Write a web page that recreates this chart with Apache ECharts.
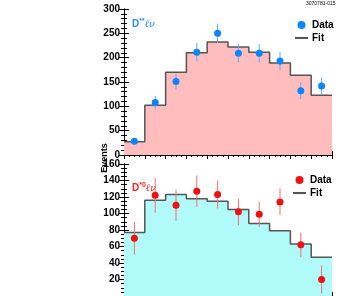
<!DOCTYPE html>
<html><head><meta charset="utf-8">
<script src="https://cdn.jsdelivr.net/npm/echarts@6/dist/echarts.min.js"></script>
<style>html,body{margin:0;padding:0;background:#fff}#c{width:339px;height:296px}</style>
</head><body><div id="c"></div>
<script>
// bins 0..10 along x
const bins = [0,1,2,3,4,5,6,7,8,9];
const topData = [28,108,151,211,250,209,209,193,132,142];
const topErr  = [7,13,16,19,20,19,19,19,17,17];
const topFit  = [27,102,170,210,232,222,211,189,164,123];
const botData = [70,122,110,127,123,102,99,114,62,20];
const botErr  = [20,21,19,19,17,16,15,16,15,17];
const botFit  = [77,116,123,118,115,105,88,79,63,47];
const topTicks = [0,50,100,150,200,250,300];
const botTicks = [20,40,60,80,100,120,140,160];

const FONT = "'Liberation Sans Narrow','Liberation Sans',Arial,sans-serif";
function stepData(fit){ const d = bins.map((b,i)=>[b,fit[i]]); d.push([bins.length, fit[fit.length-1]]); return d; }
function ptData(v,e){ return bins.map((b,i)=>[b+0.5, v[i], e[i]]); }
function errSeries(name, v, e, color, idx){
  return {type:'custom', name:name, xAxisIndex:idx, yAxisIndex:idx, z:3, silent:true,
    data: ptData(v,e), encode:{x:0,y:1},
    renderItem:(params, api)=>{
      const x=api.value(0), y=api.value(1), er=api.value(2);
      const a=api.coord([x,y-er]), b=api.coord([x,y+er]);
      return {type:'line', shape:{x1:a[0],y1:a[1],x2:b[0],y2:b[1]}, style:{stroke:color,lineWidth:1}};
    }};
}
function xAx(gi, pos){
  return {type:'value', gridIndex:gi, min:0, max:10, interval:1, position:pos,
    axisLine:{show:true,lineStyle:{color:'#000',width:1}}, axisLabel:{show:false},
    axisTick:{show:true, inside:true, length:4, lineStyle:{color:'#000'}},
    minorTick:{show:true, splitNumber:4, length:2, lineStyle:{color:'#000'}},
    splitLine:{show:false}};
}
function yAx(gi, pos, min, max, interval, showLabel, split){
  return {type:'value', gridIndex:gi, min:min, max:max, interval:interval, position:pos,
    axisLine:{show:true,lineStyle:{color:'#000',width:1}},
    axisLabel:{show:showLabel, fontFamily:FONT, fontWeight:'bold', fontSize:10, color:'#000', margin:4,
      formatter:(v)=> (gi===1 && v<20) ? '' : String(v)},
    axisTick:{show:true, inside:true, length:5, lineStyle:{color:'#000'}},
    minorTick:{show:true, splitNumber:split, length:3, lineStyle:{color:'#000'}},
    splitLine:{show:false}};
}
const chart = echarts.init(document.getElementById('c'), null, {renderer:'canvas'});
chart.setOption({
  animation:false,
  backgroundColor:'#fff',
  grid:[
    {left:124, right:7, top:9, height:146, show:false},
    {left:124, right:7, top:164, height:146, show:false}
  ],
  xAxis:[xAx(0,'bottom'), xAx(1,'bottom'), xAx(0,'top'), xAx(1,'top')],
  yAxis:[
    yAx(0,'left',0,300,50,true,5), yAx(1,'left',0,160,20,true,4),
    yAx(0,'right',0,300,50,false,5), yAx(1,'right',0,160,20,false,4)
  ],
  legend:[
    {left:290, top:15, orient:'vertical', itemGap:3, itemWidth:13, itemHeight:8,
     textStyle:{fontFamily:FONT, fontWeight:'bold', fontSize:10, color:'#000', padding:[0,0,0,-1]},
     data:[{name:'Data', icon:'circle'},{name:'Fit', icon:'path://M0,0 L10,0 L10,1.6 L0,1.6 Z'}]},
    {left:288, top:170, orient:'vertical', itemGap:3, itemWidth:13, itemHeight:8,
     textStyle:{fontFamily:FONT, fontWeight:'bold', fontSize:10, color:'#000', padding:[0,0,0,-1]},
     formatter:(n)=>n.trim(),
     data:[{name:'Data ', icon:'circle'},{name:'Fit ', icon:'path://M0,0 L10,0 L10,1.6 L0,1.6 Z'}]}
  ],
  graphic:[
    {type:'text', x:105, y:158, rotation:Math.PI/2,
     style:{text:'Events', fontFamily:FONT, fontWeight:'bold', fontSize:9, fill:'#000', textAlign:'center', textVerticalAlign:'middle'}},
    {type:'text', left:306, top:1,
     style:{text:'3070781-015', fontFamily:FONT, fontSize:5, fill:'#000'}},
    {type:'text', left:132, top:18,
     style:{rich:{a:{fontFamily:FONT,fontWeight:'bold',fontSize:10,fill:'#2a8cff'},
                  s:{fontFamily:FONT,fontWeight:'bold',fontSize:7,fill:'#2a8cff',verticalAlign:'top',padding:[0,0,5,0]},
                  i:{fontFamily:'DejaVu Serif',fontStyle:'italic',fontSize:10,fill:'#2a8cff'}},
            text:'{a|D}{s|**}{i|\u2113\u03bd}'}},
    {type:'text', left:132, top:182,
     style:{rich:{a:{fontFamily:FONT,fontWeight:'bold',fontSize:10,fill:'#ff2020'},
                  s:{fontFamily:FONT,fontWeight:'bold',fontSize:7,fill:'#ff2020',verticalAlign:'top',padding:[0,0,5,0]},
                  i:{fontFamily:'DejaVu Serif',fontStyle:'italic',fontSize:10,fill:'#ff2020'}},
            text:'{a|D}{s|*0}{i|\u2113\u03bd}'}}
  ],
  series:[
    {type:'line', name:'Fit', xAxisIndex:0, yAxisIndex:0, step:'end', data:stepData(topFit),
     symbol:'none', lineStyle:{color:'#555',width:1.5}, itemStyle:{color:'#555'},
     areaStyle:{color:'#ffbdbd', opacity:1}, z:1},
    errSeries('errTop', topData, topErr, '#5aa8ff', 0),
    {type:'scatter', name:'Data', xAxisIndex:0, yAxisIndex:0, data:ptData(topData,topErr),
     symbol:'circle', symbolSize:7, itemStyle:{color:'#0a86ff', opacity:1}, z:4},
    {type:'line', name:'Fit ', xAxisIndex:1, yAxisIndex:1, step:'end', data:stepData(botFit),
     symbol:'none', lineStyle:{color:'#555',width:1.5}, itemStyle:{color:'#555'},
     areaStyle:{color:'#b0fafa', opacity:1}, z:1},
    errSeries('errBot', botData, botErr, '#ff6a6a', 1),
    {type:'scatter', name:'Data ', xAxisIndex:1, yAxisIndex:1, data:ptData(botData,botErr),
     symbol:'circle', symbolSize:7, itemStyle:{color:'#ee1111', opacity:1}, z:4}
  ]
});
</script></body></html>
